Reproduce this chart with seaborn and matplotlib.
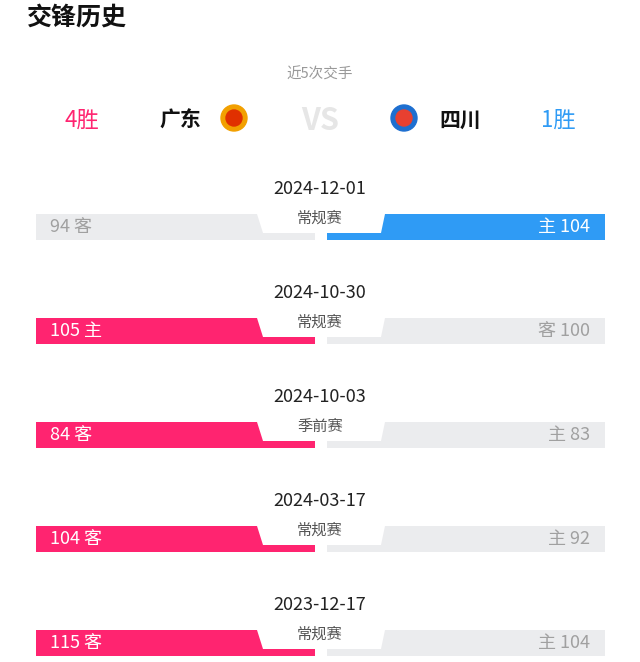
import matplotlib
matplotlib.use("Agg")
import matplotlib.pyplot as plt
from matplotlib.patches import Polygon, Circle
import seaborn as sns

dates = ["2024-12-01", "2024-10-30", "2024-10-03", "2024-03-17", "2023-12-17"]
kinds = ["常规赛", "常规赛", "季前赛", "常规赛", "常规赛"]
gd_scores = [94, 105, 84, 104, 115]
sc_scores = [104, 100, 83, 92, 104]
gd_side = ["客", "主", "客", "客", "客"]
sc_side = ["主", "客", "主", "主", "主"]
gd_wins, sc_wins = 4, 1

sns.set_theme(style="white", rc={"font.family": "Noto Sans CJK SC"})
PINK, BLUE, GREY, TXTG = "#FF2470", "#2F9BF5", "#EBECEE", "#A0A0A0"

fig = plt.figure(figsize=(6.4, 6.62), dpi=100)
ax = fig.add_axes([0, 0, 1, 1])
ax.set_xlim(0, 640); ax.set_ylim(662, 0); ax.axis("off")
sns.despine(ax=ax, left=True, bottom=True)

ax.text(27, 18, "交锋历史", fontsize=18, fontweight="bold", va="center", color="#111")
ax.text(320, 75, "近5次交手", fontsize=10.5, ha="center", va="center", color="#999")
ax.text(82, 120, f"{gd_wins}胜", fontsize=16, ha="center", va="center", color=PINK)
ax.text(558, 120, f"{sc_wins}胜", fontsize=16, ha="center", va="center", color=BLUE)
ax.text(180, 120, "广东", fontsize=15, fontweight="bold", ha="center", va="center", color="#111")
ax.text(460, 120, "四川", fontsize=15, fontweight="bold", ha="center", va="center", color="#111")
ax.text(320, 121, "VS", fontsize=22, fontweight="bold", fontstyle="italic", ha="center", va="center", color="#E6E6E6")
ax.add_patch(Circle((234, 118), 13, color="#F2A000"))
ax.add_patch(Circle((234, 118), 8, color="#E03000"))
ax.add_patch(Circle((404, 118), 13, color="#1E6FD0"))
ax.add_patch(Circle((404, 118), 8, color="#E84030"))

for i in range(len(dates)):
    o = 104 * i
    top, step, bot = 214 + o, 233 + o, 240 + o
    gw = gd_scores[i] > sc_scores[i]
    lc = PINK if gw else GREY
    rc = GREY if gw else BLUE
    ax.add_patch(Polygon([(36, top), (257, top), (263, step), (315, step), (315, bot), (36, bot)], closed=True, color=lc, lw=0))
    ax.add_patch(Polygon([(385, top), (605, top), (605, bot), (327, bot), (327, step), (381, step)], closed=True, color=rc, lw=0))
    ax.text(320, 189 + o, dates[i], fontsize=13, ha="center", va="center", color="#222")
    ax.text(320, 218 + o, kinds[i], fontsize=11, ha="center", va="center", color="#555")
    ax.text(50, 227 + o, f"{gd_scores[i]} {gd_side[i]}", fontsize=13, va="center",
            color="white" if gw else TXTG)
    ax.text(590, 227 + o, f"{sc_side[i]} {sc_scores[i]}", fontsize=13, va="center", ha="right",
            color=TXTG if gw else "white")

fig.savefig("out.png", dpi=100)
